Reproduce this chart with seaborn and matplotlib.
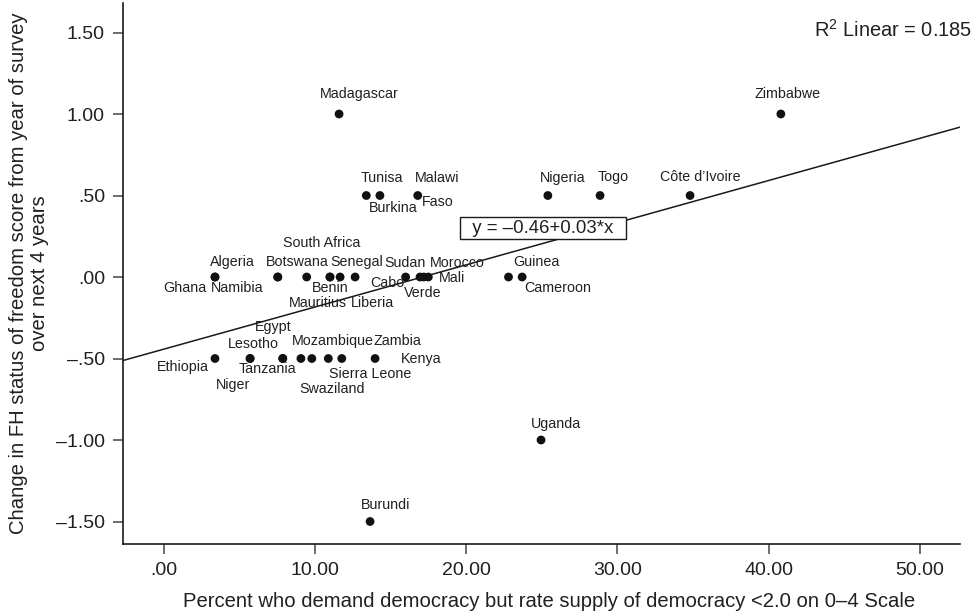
import matplotlib
matplotlib.use("Agg")
import matplotlib.pyplot as plt
import numpy as np
import pandas as pd
import seaborn as sns

# Survey data: share of "dissatisfied democrats" vs. later change in Freedom House status
countries = [
    "Madagascar", "Zimbabwe",
    "Tunisa", "Burkina Faso", "Malawi", "Nigeria", "Togo", "Côte d’Ivoire",
    "Algeria", "Ghana", "Botswana", "Namibia", "South Africa", "Benin", "Mauritius",
    "Senegal", "Liberia", "Sudan", "Cabo Verde", "Morocco", "Mali", "Guinea", "Cameroon",
    "Ethiopia", "Lesotho", "Niger", "Egypt", "Tanzania", "Mozambique", "Swaziland",
    "Sierra Leone", "Zambia", "Kenya",
    "Uganda", "Burundi",
]
demand_gap = [
    11.6, 40.8,
    13.4, 14.3, 16.8, 25.4, 28.85, 34.8,
    3.4, 3.4, 7.55, 7.55, 9.46, 11.0, 11.0,
    11.67, 12.66, 16.0, 16.95, 17.2, 17.5, 22.8, 23.7,
    3.4, 5.72, 5.72, 7.88, 7.88, 9.08, 9.8,
    10.89, 11.78, 13.98,
    24.95, 13.65,
]
fh_change = [
    1.0, 1.0,
    0.5, 0.5, 0.5, 0.5, 0.5, 0.5,
    0.0, 0.0, 0.0, 0.0, 0.0, 0.0, 0.0,
    0.0, 0.0, 0.0, 0.0, 0.0, 0.0, 0.0, 0.0,
    -0.5, -0.5, -0.5, -0.5, -0.5, -0.5, -0.5,
    -0.5, -0.5, -0.5,
    -1.0, -1.5,
]

x_ticks = [0, 10, 20, 30, 40, 50]
y_ticks = [-1.5, -1.0, -0.5, 0.0, 0.5, 1.0, 1.5]

fit_label = "  y = \u20130.46+0.03*x  "
r2_label = "R$^2$ Linear = 0.185"
x_title = "Percent who demand democracy but rate supply of democracy <2.0 on 0\u20134 Scale"
y_title = "Change in FH status of freedom score from year of survey\nover next 4 years"

# Point-label placement: pieces of text with pixel offsets (right, down) from each point
label_layout = {
    "Madagascar": [("Madagascar", 20, -20)],
    "Zimbabwe": [("Zimbabwe", 7, -20)],
    "Tunisa": [("Tunisa", 16, -18)],
    "Burkina Faso": [("Burkina", 13, 12), ("Faso", 58, 6)],
    "Malawi": [("Malawi", 19, -18)],
    "Nigeria": [("Nigeria", 15, -18)],
    "Togo": [("Togo", 13, -19)],
    "Côte d’Ivoire": [("Côte d’Ivoire", 10, -19)],
    "Algeria": [("Algeria", 17, -15)],
    "Ghana": [("Ghana", -30, 11)],
    "Botswana": [("Botswana", 20, -15)],
    "Namibia": [("Namibia", -41, 11)],
    "South Africa": [("South Africa", 15, -34)],
    "Benin": [("Benin", 0, 11)],
    "Mauritius": [("Mauritius", -12, 26)],
    "Senegal": [("Senegal", 17, -15)],
    "Liberia": [("Liberia", 17, 26)],
    "Sudan": [("Sudan", -1, -14)],
    "Cabo Verde": [("Cabo", -33, 6), ("Verde", 3, 16)],
    "Morocco": [("Morocco", 34, -14)],
    "Mali": [("Mali", 24, 1)],
    "Guinea": [("Guinea", 28, -15)],
    "Cameroon": [("Cameroon", 36, 11)],
    "Ethiopia": [("Ethiopia", -32, 8)],
    "Lesotho": [("Lesotho", 3, -15)],
    "Niger": [("Niger", -17, 26)],
    "Egypt": [("Egypt", -10, -32)],
    "Tanzania": [("Tanzania", -15, 10)],
    "Mozambique": [("Mozambique", 32, -18)],
    "Swaziland": [("Swaziland", 20, 30)],
    "Sierra Leone": [("Sierra Leone", 42, 15)],
    "Zambia": [("Zambia", 56, -18)],
    "Kenya": [("Kenya", 46, 0)],
    "Uganda": [("Uganda", 15, -16)],
    "Burundi": [("Burundi", 15, -17)],
}

df = pd.DataFrame({"country": countries, "gap": demand_gap, "change": fh_change})

sns.set_style("ticks")
plt.rcParams["font.family"] = ["Liberation Sans", "DejaVu Sans"]
plt.rcParams["mathtext.default"] = "regular"

INK = "#231f20"

fig = plt.figure(figsize=(9.78, 6.16), dpi=100)
ax = fig.add_axes([123 / 978, 1 - 544 / 616, (960 - 123) / 978, (544 - 3) / 616])
xlim = (-2.68, 52.64)
ylim = (-1.638, 1.681)
ax.set_xlim(*xlim)
ax.set_ylim(*ylim)

# Least-squares fit line spanning the full horizontal range
sns.regplot(data=df, x="gap", y="change", ci=None, truncate=False, scatter=False,
            line_kws=dict(color="#1a1a1a", lw=1.1, zorder=2), ax=ax)
sns.scatterplot(data=df, x="gap", y="change", s=40, color="#111111",
                edgecolor="none", linewidth=0, ax=ax, zorder=3, legend=False)
ax.set_xlim(*xlim)
ax.set_ylim(*ylim)

for name, gx, gy in zip(df["country"], df["gap"], df["change"]):
    for text, dx, dy in label_layout[name]:
        ax.annotate(text, (gx, gy), xytext=(dx, -dy), textcoords="offset pixels",
                    ha="center", va="center", fontsize=10.3, color=INK, zorder=4)

ax.text(25.08, 0.30, fit_label, ha="center", va="center", fontsize=13.4, color=INK,
        zorder=5,
        bbox=dict(boxstyle="square,pad=0.12", fc="white", ec="#1a1a1a", lw=1.0))

fig.text(972 / 978, 1 - 30 / 616, r2_label, ha="right", va="center",
         fontsize=14.4, color=INK)


def tick_text(v):
    s = f"{abs(v):.2f}"
    if s.startswith("0"):
        s = s[1:]
    return ("\u2013" if v < 0 else "") + s


ax.set_xticks(x_ticks)
ax.set_xticklabels([tick_text(v) for v in x_ticks])
ax.set_yticks(y_ticks)
ax.set_yticklabels([tick_text(v) for v in y_ticks])

sns.despine(ax=ax)
for side in ("left", "bottom"):
    ax.spines[side].set_color("#1a1a1a")
    ax.spines[side].set_linewidth(1.2)
ax.tick_params(direction="out", length=7, width=1.4, color="#6b6b6b",
               labelcolor=INK, labelsize=14, pad=6)

ax.set_xlabel(x_title, fontsize=14.6, color=INK)
ax.xaxis.set_label_coords(0.509, -0.089)
ax.set_ylabel(y_title, fontsize=14.6, color=INK, labelpad=5, linespacing=1.15)

fig.savefig("out.png", dpi=100)
